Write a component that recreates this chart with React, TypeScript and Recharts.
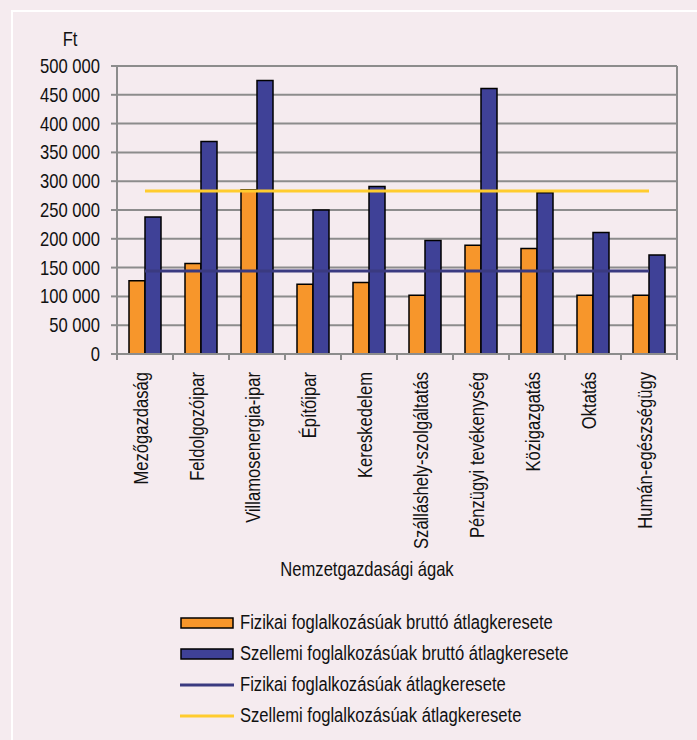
import React from "react";
import {Bar, CartesianGrid, ComposedChart, Legend, Line, XAxis, YAxis} from "recharts";

const categories = [
    "Mezőgazdaság",
    "Feldolgozóipar",
    "Villamosenergia-ipar",
    "Építőipar",
    "Kereskedelem",
    "Szálláshely-szolgáltatás",
    "Pénzügyi tevékenység",
    "Közigazgatás",
    "Oktatás",
    "Humán-egészségügy",
];
const fizikaiBrutto = [127000, 157000, 285000, 121000, 124000, 102000, 189000, 183000, 102000, 102000];
const szellemiBrutto = [238000, 369000, 475000, 250000, 291000, 197000, 461000, 280000, 211000, 172000];
const fizikaiAtlag = 144000;
const szellemiAtlag = 283000;
const yTicks = [0, 50000, 100000, 150000, 200000, 250000, 300000, 350000, 400000, 450000, 500000];

const seriesNames = [
    "Fizikai foglalkozásúak bruttó átlagkeresete",
    "Szellemi foglalkozásúak bruttó átlagkeresete",
    "Fizikai foglalkozásúak átlagkeresete",
    "Szellemi foglalkozásúak átlagkeresete",
];

const FONT = '"Liberation Sans", Arial, sans-serif';
const FS = 20;
const SQ = 0.83; // narrow look of the original font
const ORANGE = "#f7962b";
const BLUE = "#3f4197";
const DARK = "#3a3a80";
const YELLOW = "#ffcc2e";
const GRID = "#8c8c8c";
const TXT = "#111";
const W = 697, H = 740;
const LEFT = 117, TOP = 66, RIGHT_W = 20, PLOT_BOTTOM = 354, LEGEND_H = 124;
const PLOT_W = W - LEFT - RIGHT_W;

const data = categories.map((c, i) => ({
    name: c,
    fb: fizikaiBrutto[i],
    sb: szellemiBrutto[i],
    fa: fizikaiAtlag,
    sa: szellemiAtlag,
}));

const fmt = (v: number) => v.toString().replace(/\B(?=(\d{3})+(?!\d))/g, " ");

function NarrowText({x, y, rotate = 0, anchor = "start", children}: any) {
    return <text transform={`translate(${x},${y}) rotate(${rotate}) scale(${SQ},1)`} textAnchor={anchor}
                 fontFamily={FONT} fontSize={FS} fill={TXT}>{children}</text>
}

function XTick(props: any) {
    const {x, y, payload, index} = props;
    const band = PLOT_W / categories.length;
    return <g>
        <line x1={x - band / 2} y1={y} x2={x - band / 2} y2={y + 6} stroke={GRID} strokeWidth={2} />
        {index === categories.length - 1 &&
            <line x1={x + band / 2} y1={y} x2={x + band / 2} y2={y + 6} stroke={GRID} strokeWidth={2} />}
        <NarrowText x={x + 3} y={y + 18} rotate={-90} anchor="end">{payload.value}</NarrowText>
    </g>
}

function YTick(props: any) {
    const {x, y, payload} = props;
    return <NarrowText x={x} y={y + 7} anchor="end">{fmt(payload.value)}</NarrowText>
}

function LegendBox() {
    const items = [
        {type: "rect", color: ORANGE},
        {type: "rect", color: BLUE},
        {type: "line", color: DARK},
        {type: "line", color: YELLOW},
    ];
    return <div style={{fontFamily: FONT, fontSize: FS, color: TXT, height: LEGEND_H}}>
        {items.map((it, i) => <div key={i} style={{display: "flex", alignItems: "center", height: 31, whiteSpace: "nowrap"}}>
            <svg width={56} height={14} style={{marginRight: 4, flex: "none"}}>
                {it.type === "rect"
                    ? <rect x={1} y={2} width={52} height={10} fill={it.color} stroke="#000" strokeWidth={1.5} />
                    : <line x1={0} y1={7} x2={54} y2={7} stroke={it.color} strokeWidth={3} />}
            </svg>
            <span style={{display: "inline-block", transform: `scaleX(${SQ})`, transformOrigin: "left center"}}>
                {seriesNames[i]}
            </span>
        </div>)}
    </div>
}

export default function App() {
    return <div style={{position: "absolute", left: 0, top: 0, width: W, height: H, background: "#f5ebef", overflow: "hidden"}}>
        <div style={{position: "absolute", left: 11, top: 10, width: 720, height: 760, border: "2px solid #fff"}} />
        <div style={{position: "absolute", left: 0, top: 0}}>
            <ComposedChart width={W} height={H} data={data}
                           margin={{top: TOP, right: 0, bottom: 0, left: 0}}
                           barSize={16} barGap={0}>
                <CartesianGrid vertical={false} stroke={GRID} strokeWidth={2} />
                <XAxis dataKey="name" height={H - PLOT_BOTTOM - LEGEND_H} axisLine={{stroke: GRID, strokeWidth: 2}}
                       tickLine={false} tickSize={0} tickMargin={0} interval={0} tick={<XTick />}
                       label={{content: () => <NarrowText x={367} y={576} anchor="middle">Nemzetgazdasági ágak</NarrowText>}} />
                <YAxis width={LEFT} domain={[0, 500000]} ticks={yTicks} interval={0}
                       axisLine={{stroke: GRID, strokeWidth: 2}} tickLine={{stroke: GRID, strokeWidth: 2}}
                       tickSize={6} tickMargin={11} tick={<YTick />}
                       label={{content: () => <NarrowText x={70} y={46} anchor="middle">Ft</NarrowText>}} />
                <YAxis yAxisId="r" orientation="right" width={RIGHT_W} tick={false} tickLine={false}
                       axisLine={{stroke: GRID, strokeWidth: 2}} />
                <Bar dataKey="fb" name={seriesNames[0]} fill={ORANGE} stroke="#000" strokeWidth={1.5} isAnimationActive={false} />
                <Bar dataKey="sb" name={seriesNames[1]} fill={BLUE} stroke="#000" strokeWidth={1.5} isAnimationActive={false} />
                <Line dataKey="fa" name={seriesNames[2]} stroke={DARK} strokeWidth={3} dot={false} activeDot={false} isAnimationActive={false} />
                <Line dataKey="sa" name={seriesNames[3]} stroke={YELLOW} strokeWidth={3} dot={false} activeDot={false} isAnimationActive={false} />
                <Legend layout="vertical" align="center" verticalAlign="bottom"
                        wrapperStyle={{position: "absolute", top: 607, left: 180, width: 460, bottom: "auto"}}
                        content={() => <LegendBox />} />
            </ComposedChart>
        </div>
    </div>
}
